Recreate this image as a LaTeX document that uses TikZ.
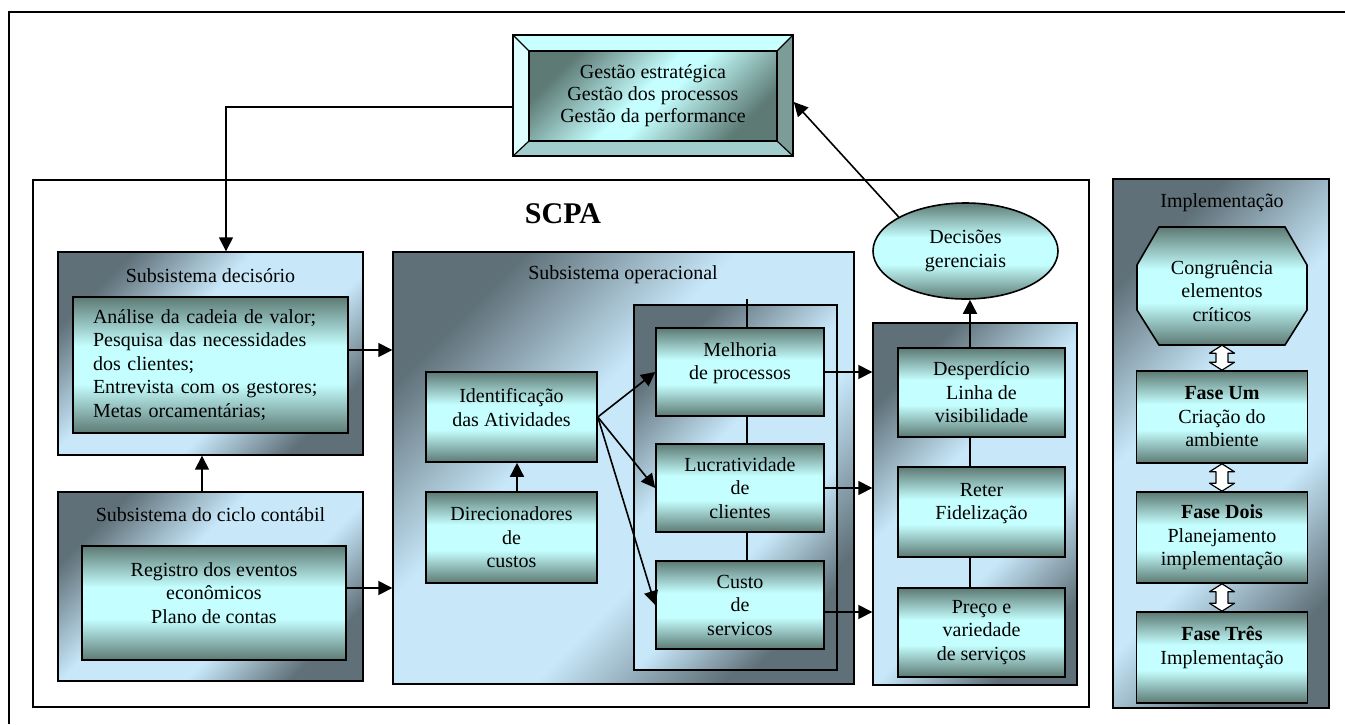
\documentclass[tikz,border=0pt]{standalone}
\usepackage{fontspec}
\setmainfont{Liberation Serif}
\usetikzlibrary{arrows.meta,calc,shapes.geometric}

% colours
\definecolor{paneldark}{RGB}{95,112,120}
\definecolor{panellight}{RGB}{200,232,250}
\definecolor{itemdark}{RGB}{93,122,116}
\definecolor{itemlight}{RGB}{196,254,254}
\definecolor{bevtop}{RGB}{200,255,255}
\definecolor{bevleft}{RGB}{222,255,255}
\definecolor{bevbottom}{RGB}{163,204,204}
\definecolor{bevright}{RGB}{125,156,152}

% shadings: diagonal dark-light-dark for panels, banded for items
\pgfdeclarehorizontalshading{panelshade}{100bp}{color(0bp)=(paneldark); color(25bp)=(paneldark); color(42bp)=(panellight); color(60bp)=(panellight); color(75bp)=(paneldark); color(100bp)=(paneldark)}
\pgfdeclareverticalshading{itemshade}{100bp}{color(0bp)=(itemdark); color(25bp)=(itemdark); color(43bp)=(itemlight); color(57bp)=(itemlight); color(75bp)=(itemdark); color(100bp)=(itemdark)}
\pgfdeclarehorizontalshading{coreshade}{100bp}{color(0bp)=(itemdark); color(25bp)=(itemdark); color(47bp)=(itemlight); color(53bp)=(itemlight); color(75bp)=(itemdark); color(100bp)=(itemdark)}

\newcommand\diagfont{\fontsize{20pt}{23.5pt}\selectfont}

\begin{document}
\begin{tikzpicture}[x=1pt,y=-1pt,
  panel/.style={draw, line width=1.4pt, shading=panelshade, shading angle=-45, inner sep=0pt},
  item/.style={draw, line width=1.6pt, shading=itemshade, inner sep=0pt, align=center, font=\diagfont},
  heading/.style={font=\diagfont, inner sep=0pt},
  txt/.style={align=center, font=\diagfont, inner sep=0pt},
  link/.style={line width=1.6pt, -{Triangle[length=14pt,width=14pt]}},
  tie/.style={line width=1.6pt},
  boxframe/.style={draw, line width=1.4pt, inner sep=0pt},
  twoway/.style={draw, fill=white, line width=1.2pt, line join=round}
]
\useasboundingbox (0,0) rectangle (1345,724);

% page frame, open at right and bottom
\draw[line width=2.2pt] (9,724) -- (9,12) -- (1345,12);

% bevelled management box
\fill[bevtop] (513,35) -- (793,35) -- (777,51) -- (529,51) -- cycle;
\fill[bevright] (793,35) -- (793,156) -- (777,141) -- (777,51) -- cycle;
\fill[bevbottom] (513,156) -- (793,156) -- (777,141) -- (529,141) -- cycle;
\fill[bevleft] (513,35) -- (513,156) -- (529,141) -- (529,51) -- cycle;
\shadedraw[line width=1.6pt, shading=coreshade, shading angle=-45] (529,51) rectangle (777,141);
\draw[line width=1.2pt] (513,35) -- (529,51) (793,35) -- (777,51) (793,156) -- (777,141) (513,156) -- (529,141);
\node[draw, line width=1.6pt, minimum width=280pt, minimum height=121pt, inner sep=0pt, align=center,
      font=\fontsize{20pt}{22pt}\selectfont] (strat) at (653,95.5)
  {Gestão estratégica\\Gestão dos processos\\Gestão da performance};

% SCPA frame
\node[boxframe, minimum width=1056pt, minimum height=527pt] (scpa) at (561,443.5) {};
\node[font=\bfseries\fontsize{30pt}{36pt}\selectfont, inner sep=0pt] (scpatitle) at (563,214) {SCPA};

% decision subsystem
\node[panel, minimum width=305pt, minimum height=203pt] (dec) at (210.5,353.5) {};
\node[heading] (dectitle) at (210.5,276) {Subsistema decisório};
\node[item, text width=235pt, align=left, inner xsep=20pt, minimum height=136pt] (decitems) at (210.5,365)
  {Análise da cadeia de valor;\\Pesquisa das necessidades\\dos clientes;\\Entrevista com os gestores;\\Metas orcamentárias;};

% accounting cycle subsystem
\node[panel, minimum width=305pt, minimum height=189pt] (cic) at (210.5,586.5) {};
\node[heading] (cictitle) at (210.5,515) {Subsistema do ciclo contábil};
\node[item, minimum width=264pt, minimum height=114pt,
      label={[txt,yshift=10pt]center:Registro dos eventos\\econômicos\\Plano de contas}] (cicitems) at (214,603) {};

% operational subsystem
\node[panel, minimum width=461pt, minimum height=432pt] (oper) at (623.5,468) {};
\node[heading] (opertitle) at (623,275) {Subsistema operacional};
\node[panel, minimum width=203pt, minimum height=365pt] (opgrp) at (735.5,487.5) {};
\node[item, minimum width=171pt, minimum height=90pt,
      label={[txt,yshift=9.5pt]center:Identificação\\das Atividades}] (ident) at (511.5,417) {};
\node[item, minimum width=171pt, minimum height=91pt] (drv) at (511.5,537.5) {Direcionadores\\de\\custos};
\node[item, minimum width=168pt, minimum height=88pt,
      label={[txt,yshift=9pt]center:Melhoria\\de processos}] (mel) at (740,372) {};
\node[item, minimum width=168pt, minimum height=88pt] (luc) at (740,488) {Lucratividade\\de\\clientes};
\node[item, minimum width=168pt, minimum height=88pt] (cus) at (740,605) {Custo\\de\\servicos};

% results column
\node[panel, minimum width=204pt, minimum height=362pt] (rgrp) at (975,504) {};
\node[item, minimum width=167pt, minimum height=89pt] (desp) at (981.5,392.5) {Desperdício\\Linha de\\visibilidade};
\node[item, minimum width=167pt, minimum height=90pt,
      label={[txt,yshift=8.5pt]center:Reter\\Fidelização}] (ret) at (981.5,512) {};
\node[item, minimum width=167pt, minimum height=89pt] (pre) at (981.5,632.5) {Preço e\\variedade\\de serviços};
\node[ellipse, draw, line width=1.6pt, shading=itemshade, minimum width=185pt, minimum height=96pt,
      inner sep=0pt, align=center, font=\diagfont] (deci) at (965.5,251) {Decisões\\gerenciais};

% implementation column
\node[panel, minimum width=216pt, minimum height=529pt] (impl) at (1221,443.5) {};
\node[heading] (impltitle) at (1222,203) {Implementação};
\shadedraw[line width=1.6pt, shading=itemshade] (1159,227) -- (1285,227) -- (1307,265) -- (1307,310)
  -- (1285,345) -- (1159,345) -- (1137,310) -- (1137,265) -- cycle;
\node[minimum width=170pt, minimum height=118pt, inner sep=0pt,
      label={[txt,yshift=-5pt]center:Congruência\\elementos\\críticos}] (cong) at (1222,286) {};
\node[item, minimum width=171pt, minimum height=92pt] (f1) at (1222,417) {\textbf{Fase Um}\\Criação do\\ambiente};
\node[item, minimum width=171pt, minimum height=91pt] (f2) at (1222,537.5) {\textbf{Fase Dois}\\Planejamento\\implementação};
\node[item, minimum width=171pt, minimum height=91pt,
      label={[txt,yshift=10pt]center:\textbf{Fase Três}\\Implementação}] (f3) at (1222,657.5) {};

% two-way block arrows between the phases
\foreach \u/\l in {cong/f1, f1/f2, f2/f3}{
  \draw[twoway] (\u.south) -- ++(12.5,8) -- ++(-6.5,0) -- ($(\l.north)+(6,-8)$) -- ++(6.5,0)
    -- (\l.north) -- ++(-12.5,-8) -- ++(6.5,0) -- ($(\u.south)+(-6,8)$) -- ++(-6.5,0) -- cycle;
}

% connectors
\coordinate (bend) at (226,107);
\draw[link] (strat.west |- bend) -- (bend) -- (bend |- dec.north);
\draw[link] (deci.153) -- ([yshift=-6.5pt]strat.east);
\coordinate (decout) at ([yshift=15pt]decitems.east);
\draw[link] (decout) -- (decout -| oper.west);
\coordinate (cicout) at ([yshift=15pt]cicitems.east);
\draw[link] (cicout) -- (cicout -| oper.west);
\draw[link] ([xshift=-8.5pt]cic.north) -- ([xshift=-8.5pt]dec.south);
\draw[link] ([xshift=5.5pt]drv.north) -- ([xshift=5.5pt]ident.south);
\draw[link] (ident.east) -- (mel.west);
\draw[link] (ident.east) -- (luc.west);
\draw[link] (ident.east) -- (cus.west);
\draw[link] (mel.east) -- (mel.east -| rgrp.west);
\draw[link] (luc.east) -- (luc.east -| rgrp.west);
\coordinate (cusout) at ([yshift=-7pt]cus.east);
\draw[link] (cusout) -- (cusout -| rgrp.west);
\coordinate (rspine) at (970,0);
\draw[link] (desp.north -| rspine) -- (deci.south -| rspine);
\draw[tie] (desp.south -| rspine) -- (ret.north -| rspine);
\draw[tie] (ret.south -| rspine) -- (pre.north -| rspine);
\coordinate (stub) at (747,299);
\draw[tie] (stub) -- (stub |- mel.north);
\draw[tie] (mel.south -| stub) -- (luc.north -| stub);
\draw[tie] (luc.south -| stub) -- (cus.north -| stub);
\end{tikzpicture}
\end{document}
